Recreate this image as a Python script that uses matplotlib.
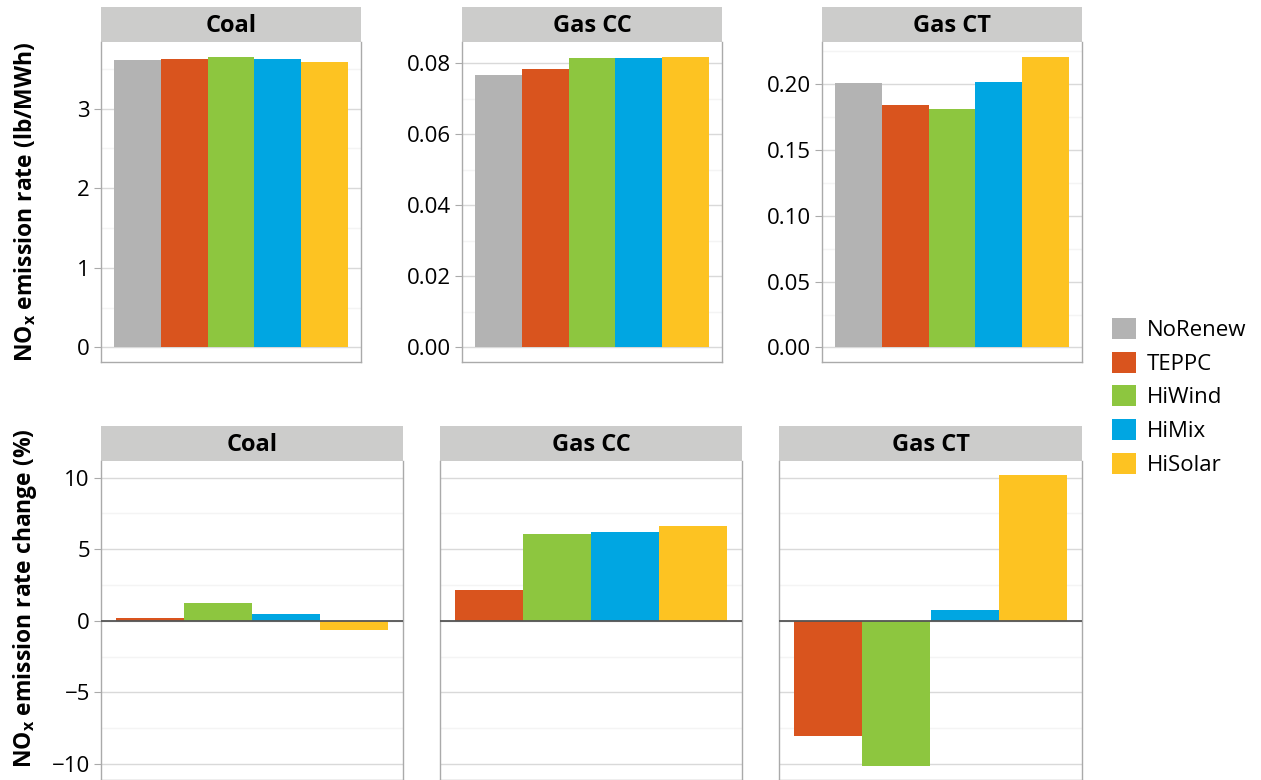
import matplotlib.pyplot as plt
from matplotlib.ticker import MultipleLocator, FormatStrFormatter
from matplotlib.patches import Patch

plt.rcParams['font.family'] = ['Open Sans', 'DejaVu Sans']

scenarios = ["NoRenew", "TEPPC", "HiWind", "HiMix", "HiSolar"]
colors = ["#b3b3b3", "#d9541e", "#8dc63f", "#00a6e2", "#fdc322"]
fuels = ["Coal", "Gas CC", "Gas CT"]

# emission rate, lb/MWh (all 5 scenarios)
rate_coal = [3.61, 3.617, 3.654, 3.627, 3.588]
rate_gascc = [0.0767, 0.0784, 0.0815, 0.0815, 0.0818]
rate_gasct = [0.201, 0.1843, 0.1806, 0.2017, 0.2207]

# change vs NoRenew, % (TEPPC, HiWind, HiMix, HiSolar)
chg_coal = [0.19, 1.22, 0.46, -0.62]
chg_gascc = [2.12, 6.07, 6.21, 6.62]
chg_gasct = [-8.03, -10.1, 0.74, 10.15]

rates = [rate_coal, rate_gascc, rate_gasct]
changes = [chg_coal, chg_gascc, chg_gasct]
rate_major = [1, 0.02, 0.05]
rate_fmt = ["%d", "%.2f", "%.2f"]

W, H = 1261, 780
fig = plt.figure(figsize=(W / 100, H / 100), dpi=100)


def box(x0, y0, x1, y1):
    return [x0 / W, 1 - y1 / H, (x1 - x0) / W, (y1 - y0) / H]


def strip(x0, y0, x1, y1, label):
    s = fig.add_axes(box(x0, y0, x1, y1))
    s.set_facecolor("#cccccb")
    for sp in s.spines.values():
        sp.set_visible(False)
    s.set_xticks([])
    s.set_yticks([])
    s.text(0.5, 0.45, label, ha="center", va="center", fontsize=17,
           fontweight="bold", transform=s.transAxes)


def style(ax, major, show_labels=True):
    ax.set_axisbelow(True)
    ax.yaxis.set_major_locator(MultipleLocator(major))
    ax.yaxis.set_minor_locator(MultipleLocator(major / 2))
    ax.grid(which="major", axis="y", color="#d9d9d9", lw=1)
    ax.grid(which="minor", axis="y", color="#f4f4f4", lw=1)
    ax.set_xticks([])
    ax.tick_params(axis="y", which="major", length=5 if show_labels else 0,
                   color="#aaaaaa", labelsize=16, pad=3,
                   labelleft=show_labels)
    ax.tick_params(axis="y", which="minor", length=0)
    ax.spines["top"].set_visible(False)
    for k in ["left", "right", "bottom"]:
        ax.spines[k].set_color("#aaaaaa")
        ax.spines[k].set_linewidth(1)


def bars(ax, vals, cols):
    n = len(vals)
    ax.bar(range(n), vals, width=1.0, color=cols, linewidth=0)
    pad = n * (1 / 0.9 - 1) / 2
    ax.set_xlim(-0.5 - pad, n - 0.5 + pad)


def expand(vals):
    lo, hi = min(0, min(vals)), max(0, max(vals))
    r = hi - lo
    return lo - 0.05 * r, hi + 0.05 * r


# top row
top_x = [(101, 361), (462, 722), (822, 1082)]
for i, fuel in enumerate(fuels):
    x0, x1 = top_x[i]
    strip(x0, 7, x1, 42, fuel)
    ax = fig.add_axes(box(x0, 42, x1, 362))
    bars(ax, rates[i], colors)
    ax.set_ylim(*expand(rates[i]))
    style(ax, rate_major[i])
    ax.yaxis.set_major_formatter(FormatStrFormatter(rate_fmt[i]))

# bottom row (shared y)
bot_x = [(101, 403), (440, 742), (779, 1082)]
all_chg = chg_coal + chg_gascc + chg_gasct
ylo, yhi = expand(all_chg)
for i, fuel in enumerate(fuels):
    x0, x1 = bot_x[i]
    strip(x0, 426, x1, 461, fuel)
    ax = fig.add_axes(box(x0, 461, x1, 780))
    bars(ax, changes[i], colors[1:])
    ax.set_ylim(ylo, yhi)
    style(ax, 5, show_labels=(i == 0))
    ax.axhline(0, color="#555555", lw=1.3, zorder=3)

fig.text(25 / W, 1 - 202 / H, r"NO$_\mathregular{x}$ emission rate (lb/MWh)",
         rotation=90, ha="center", va="center", fontsize=16.5, fontweight="bold")
fig.text(25 / W, 1 - 598 / H, r"NO$_\mathregular{x}$ emission rate change (%)",
         rotation=90, ha="center", va="center", fontsize=16.5, fontweight="bold")

handles = [Patch(facecolor=c, edgecolor="none") for c in colors]
fig.legend(handles, scenarios, loc="upper left",
           bbox_to_anchor=(1103 / W, 1 - 309 / H), frameon=False,
           fontsize=16, handlelength=1.08, handleheight=1.08,
           handletextpad=0.5, labelspacing=0.48, borderaxespad=0)

fig.savefig("out.png", dpi=100)
